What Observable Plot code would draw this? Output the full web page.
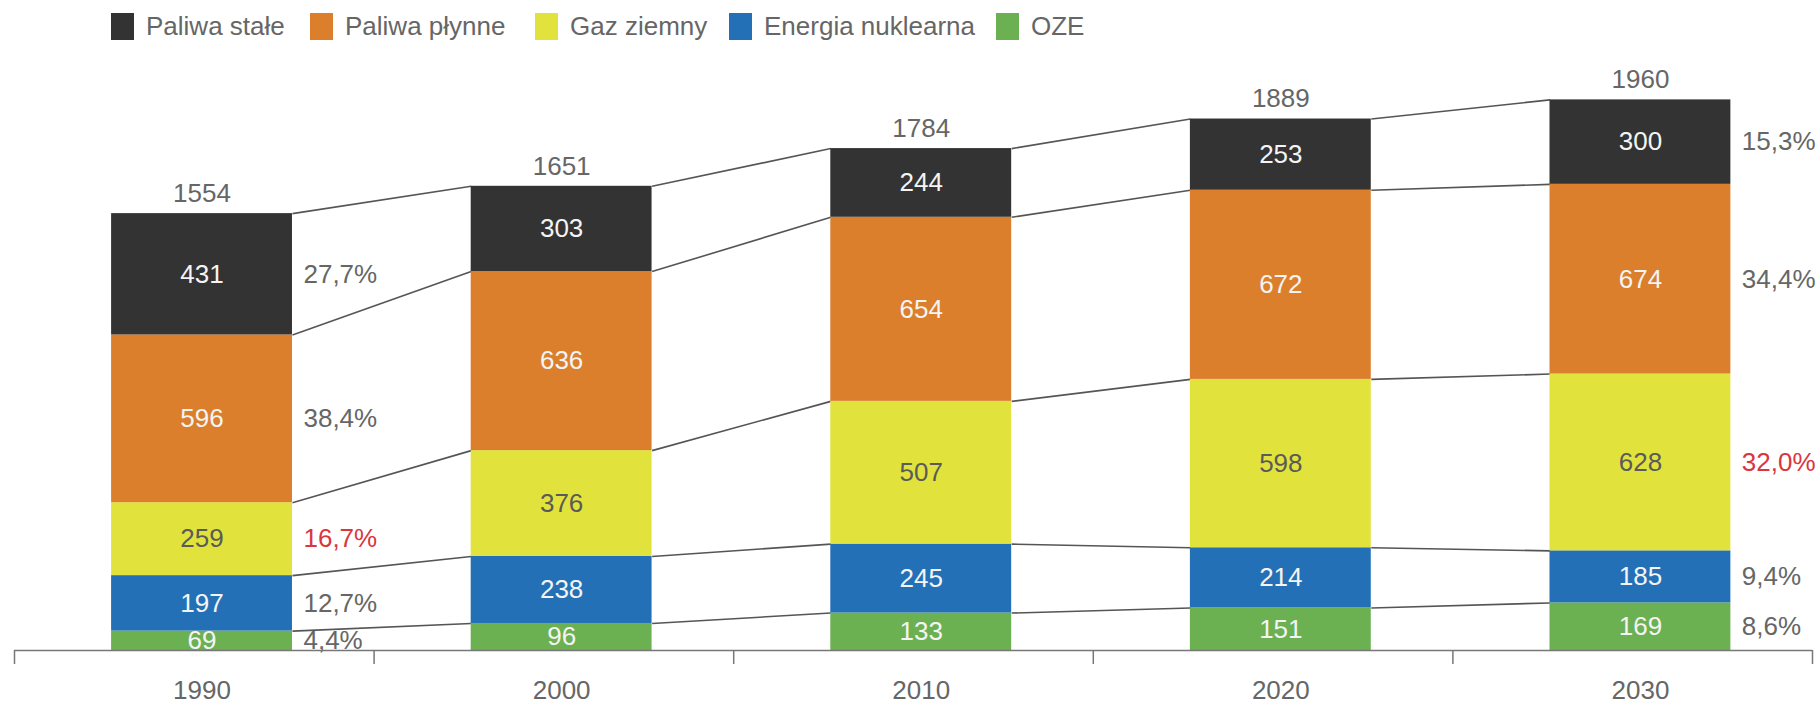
<!DOCTYPE html>
<html>
<head>
<meta charset="utf-8">
<script src="https://cdn.jsdelivr.net/npm/d3@7"></script>
<script src="https://cdn.jsdelivr.net/npm/@observablehq/plot@0.6"></script>
<style>
  body { margin: 0; background: #fff; font-family: "Liberation Sans", Arial, sans-serif; }
  #legend { position: relative; height: 56px; width: 1816px; }
  .item { position: absolute; top: 13px; height: 27px; display: flex; align-items: center; font-size: 26px; color: #666; white-space: nowrap; }
  .sw { width: 23px; height: 27px; margin-right: 12px; }
</style>
</head>
<body>
<div id="legend"></div>
<div id="chart"></div>
<script>
// ---- data ----
const years = [1990, 2000, 2010, 2020, 2030];
const seriesNames = ["Paliwa stałe", "Paliwa płynne", "Gaz ziemny", "Energia nuklearna", "OZE"];
const seriesColors = ["#333333", "#db7f2d", "#e1e33c", "#2470b7", "#6bb152"];
const paliwaStale = [431, 303, 244, 253, 300];
const paliwaPlynne = [596, 636, 654, 672, 674];
const gazZiemny = [259, 376, 507, 598, 628];
const energiaNuklearna = [197, 238, 245, 214, 185];
const oze = [69, 96, 133, 151, 169];
const totals = [1554, 1651, 1784, 1889, 1960];
const shares1990 = ["27,7%", "38,4%", "16,7%", "12,7%", "4,4%"];
const shares2030 = ["15,3%", "34,4%", "32,0%", "9,4%", "8,6%"];
const legendX = [111, 310, 535, 729, 996];

// ---- legend ----
const leg = document.getElementById("legend");
seriesNames.forEach((n, i) => {
  const it = document.createElement("div");
  it.className = "item";
  it.style.left = legendX[i] + "px";
  it.innerHTML = `<div class="sw" style="background:${seriesColors[i]}"></div><span>${n}</span>`;
  leg.appendChild(it);
});

// ---- build table ----
const valuesBySeries = [paliwaStale, paliwaPlynne, gazZiemny, energiaNuklearna, oze];
const half = 2.515;           // half bar width in years
const tickOffset = -5.215;    // axis tick offset from year
const rows = [];
const cumTop = []; // cumTop[j][i] = top of series j (stack from bottom OZE)
const order = [4, 3, 2, 1, 0]; // bottom -> top
years.forEach((yr, i) => {
  let c = 0;
  order.forEach(j => {
    const v = valuesBySeries[j][i];
    rows.push({year: yr, series: seriesNames[j], j, value: v, y1: c, y2: c + v, i});
    c += v;
    (cumTop[j] ||= [])[i] = c;
  });
});
const links = [];
seriesNames.forEach((n, j) => {
  for (let i = 0; i < years.length - 1; i++) {
    links.push({x1: years[i] + half, x2: years[i + 1] - half, y1: cumTop[j][i], y2: cumTop[j][i + 1]});
  }
});
const shareRows = [];
rows.forEach(r => {
  if (r.i === 0) shareRows.push({x: r.year + half, y: (r.y1 + r.y2) / 2, t: shares1990[r.j], red: r.j === 2});
  if (r.i === years.length - 1) shareRows.push({x: r.year + half, y: (r.y1 + r.y2) / 2, t: shares2030[r.j], red: r.j === 2});
});
const tickPositions = [...years.map(y => y + tickOffset), years[years.length - 1] + 10 + tickOffset];

const chart = Plot.plot({
  width: 1816,
  height: 648,
  marginLeft: 14,
  marginRight: 4,
  marginTop: 31,
  marginBottom: 54,
  style: {fontFamily: "'Liberation Sans', Arial, sans-serif", fontSize: "26px", background: "white"},
  x: {type: "linear", domain: [1990 + tickOffset, 2040 + tickOffset], axis: null},
  y: {domain: [0, 2000], axis: null},
  marks: [
    Plot.link(links, {x1: "x1", x2: "x2", y1: "y1", y2: "y2", stroke: "#555", strokeWidth: 1.6}),
    Plot.rect(rows, {x1: d => d.year - half, x2: d => d.year + half, y1: "y1", y2: "y2",
      fill: d => seriesColors[d.j]}),
    Plot.text(rows, {x: "year", y: d => (d.y1 + d.y2) / 2, text: d => String(d.value),
      fill: d => d.j === 2 ? "#5a5a5a" : "#f4f4f4", fontSize: 26}),
    Plot.text(years, {x: d => d, y: (d, i) => cumTop[0][i], text: (d, i) => String(totals[i]),
      dy: -20, fill: "#666", fontSize: 26}),
    Plot.text(shareRows, {x: "x", y: "y", text: "t", dx: 11, textAnchor: "start",
      fill: d => d.red ? "#d9363e" : "#666", fontSize: 26}),
    Plot.ruleY([0], {stroke: "#777", strokeWidth: 1.5}),
    Plot.axisX({ticks: tickPositions, tickSize: 14, tickFormat: () => "", stroke: "#777", strokeWidth: 1.5}),
    Plot.text(years, {x: d => d, y: 0, dy: 40, text: d => String(d), fill: "#666", fontSize: 26})
  ]
});
document.getElementById("chart").appendChild(chart);
</script>
</body>
</html>
